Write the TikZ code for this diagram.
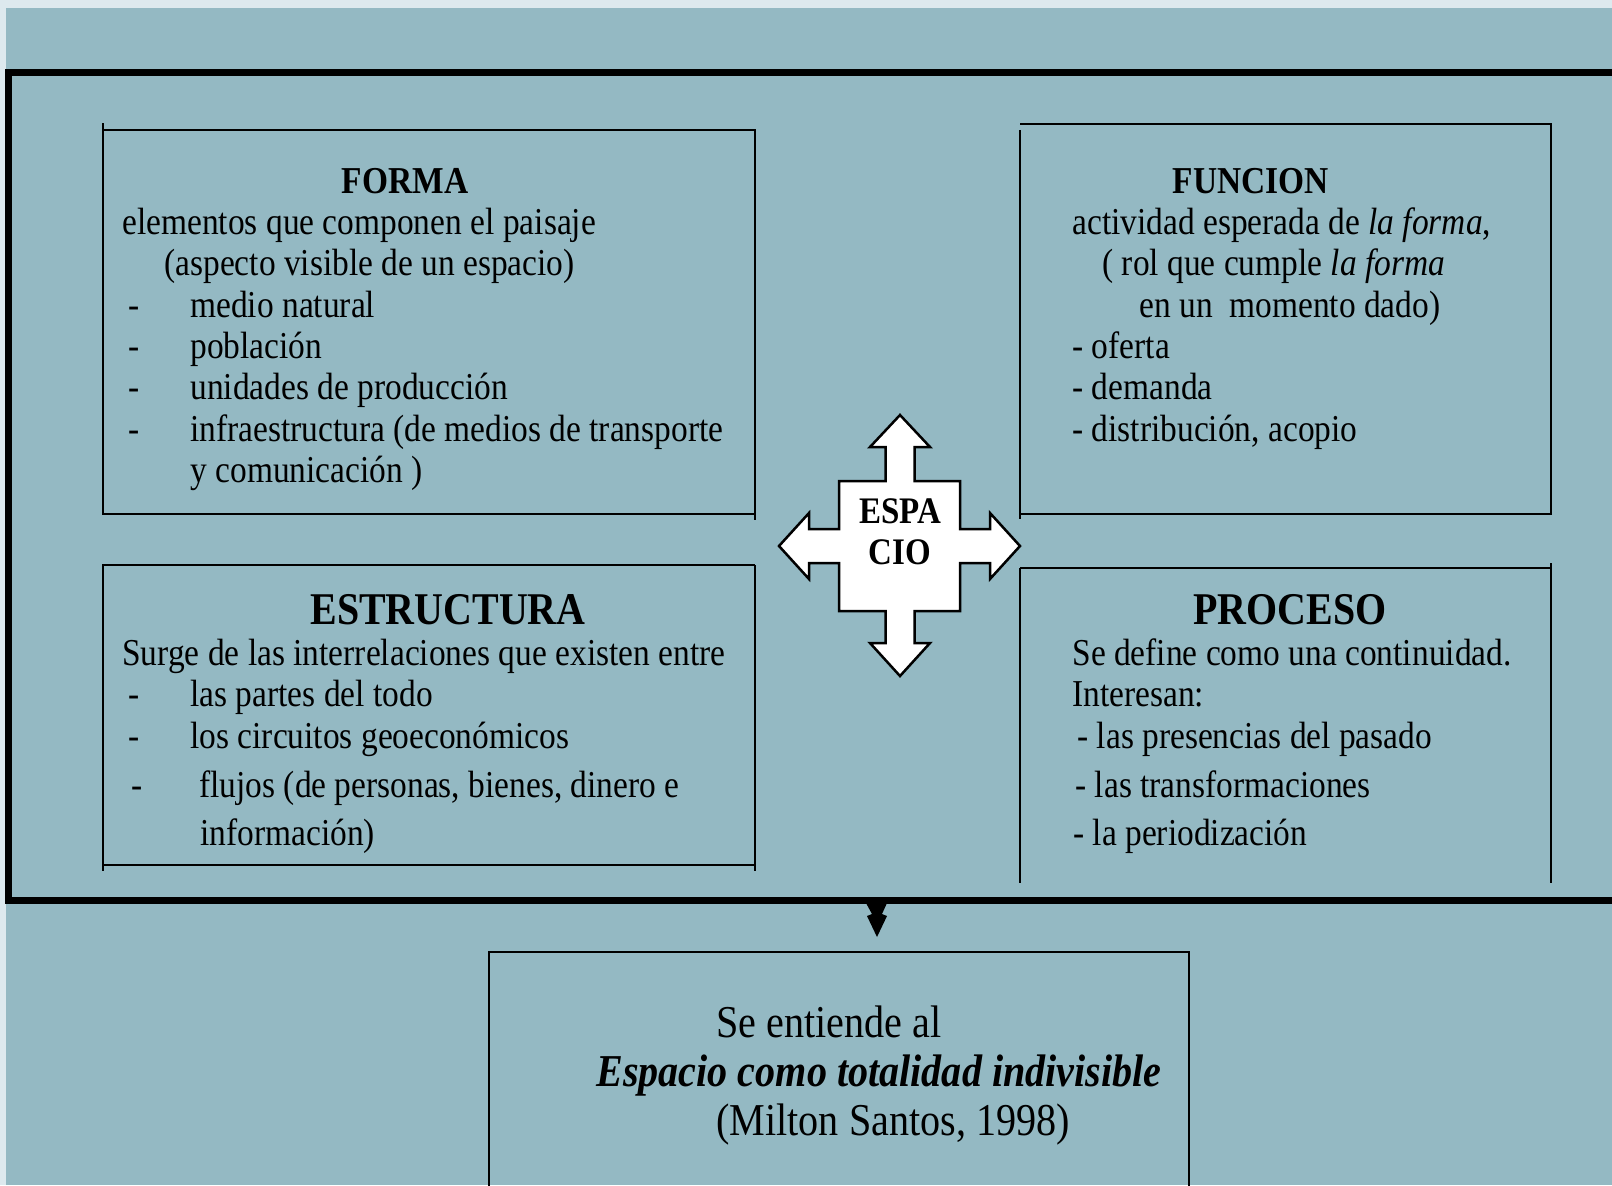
\documentclass[tikz,border=0pt]{standalone}
\usepackage{fontspec}
\setmainfont{Liberation Serif}[FakeStretch=0.88]
\definecolor{bgteal}{HTML}{94B9C3}
\definecolor{bgpale}{HTML}{DDE9EE}
\begin{document}
\begin{tikzpicture}[x=0.5pt,y=-0.5pt,
  txt/.style={inner sep=0pt, anchor=base west, font=\fontsize{19pt}{22pt}\selectfont},
  ttl/.style={inner sep=0pt, anchor=base, font=\fontsize{19pt}{22pt}\selectfont\bfseries},
  bigttl/.style={inner sep=0pt, anchor=base, font=\fontsize{22.7pt}{26pt}\selectfont\bfseries},
  btxt/.style={inner sep=0pt, anchor=base west, font=\fontsize{22.8pt}{26pt}\selectfont},
  boxline/.style={line width=1.25pt},
  frameline/.style={line width=3.5pt}]
\useasboundingbox (0,0) rectangle (1612,1185);
\fill[bgpale] (0,0) rectangle (1612,1185);
\fill[bgteal] (6,8) rectangle (1612,1185);

% main frame
\draw[frameline] (1612,72.5) -- (8.5,72.5) -- (8.5,900.5) -- (1612,900.5);

% FORMA box
\draw[boxline] (103,123) -- (103,514);
\draw[boxline] (102,130) -- (755,130) -- (755,520);
\draw[boxline] (102,514) -- (755,514);
% FUNCION box
\draw[boxline] (1020,124) -- (1551,124) -- (1551,514);
\draw[boxline] (1020,130) -- (1020,519);
\draw[boxline] (1020,514) -- (1552,514);
% ESTRUCTURA box
\draw[boxline] (102,565) -- (755,565);
\draw[boxline] (103,565) -- (103,871);
\draw[boxline] (755,565) -- (755,871);
\draw[boxline] (102,865) -- (756,865);
% PROCESO box
\draw[boxline] (1020,568) -- (1551,568);
\draw[boxline] (1020,568) -- (1020,883);
\draw[boxline] (1551,563) -- (1551,883);
% bottom box
\draw[boxline] (489,1190) -- (489,952) -- (1189,952) -- (1189,1190);

% FORMA text
\node[ttl] (formaT) at (405,193) {FORMA};
\node[txt] (f1) at (122,234) {elementos que componen el paisaje};
\node[txt] (f2) at (164,275) {(aspecto visible de un espacio)};
\node[txt] (f3d) at (128,317) {-};
\node[txt] (f3) at (190,317) {medio natural};
\node[txt] (f4d) at (128,358) {-};
\node[txt] (f4) at (190,358) {población};
\node[txt] (f5d) at (128,399) {-};
\node[txt] (f5) at (190,399) {unidades de producción};
\node[txt] (f6d) at (128,441) {-};
\node[txt] (f6) at (190,441) {infraestructura (de medios de transporte};
\node[txt] (f7) at (190,482) {y comunicación )};

% FUNCION text
\node[ttl] (funcT) at (1251,193) {FUNCION};
\node[txt] (u1) at (1072,234) {actividad esperada de \textit{la forma},};
\node[txt] (u2) at (1102,275) {( rol que cumple \textit{la forma}};
\node[txt] (u3) at (1139,317) {en un\ \ momento dado)};
\node[txt] (u4) at (1072,358) {- oferta};
\node[txt] (u5) at (1072,399) {- demanda};
\node[txt] (u6) at (1072,441) {- distribución, acopio};

% ESTRUCTURA text
\node[bigttl] (estT) at (448,624) {ESTRUCTURA};
\node[txt] (e1) at (122,665) {Surge de las interrelaciones que existen entre};
\node[txt] (e2d) at (128,706) {-};
\node[txt] (e2) at (190,706) {las partes del todo};
\node[txt] (e3d) at (128,748) {-};
\node[txt] (e3) at (190,748) {los circuitos geoeconómicos};
\node[txt] (e4d) at (131,797) {-};
\node[txt] (e4) at (199,797) {flujos (de personas, bienes, dinero e};
\node[txt] (e5) at (200,845) {información)};

% PROCESO text
\node[bigttl] (procT) at (1290,624) {PROCESO};
\node[txt] (p1) at (1072,665) {Se define como una continuidad.};
\node[txt] (p2) at (1072,706) {Interesan:};
\node[txt] (p3) at (1077,748) {- las presencias del pasado};
\node[txt] (p4) at (1075,797) {- las transformaciones};
\node[txt] (p5) at (1073,845) {- la periodización};

% central cross arrow
\draw[boxline, fill=white, line join=miter]
  (900,415) -- (930,447) -- (914.5,447) -- (914.5,481) -- (960,481) -- (960,529)
  -- (990,529) -- (990,513) -- (1020,546) -- (990,579) -- (990,563) -- (960,563)
  -- (960,611) -- (914.5,611) -- (914.5,643) -- (930,643) -- (900,676) -- (870,643)
  -- (885.5,643) -- (885.5,611) -- (839,611) -- (839,563) -- (809,563) -- (809,579)
  -- (779,546) -- (809,513) -- (809,529) -- (839,529) -- (839,481) -- (885.5,481)
  -- (885.5,447) -- (870,447) -- cycle;
\node[ttl, font=\fontsize{18.75pt}{22pt}\selectfont\bfseries] (esp1) at (900,523) {ESPA};
\node[ttl, font=\fontsize{18.75pt}{22pt}\selectfont\bfseries] (esp2) at (900,564) {CIO};

% down arrow
\fill[black] (866,903) -- (887,903) -- (882,914) -- (887,916) -- (877,937)
  -- (867,916) -- (872,914) -- cycle;

% bottom box text
\node[btxt] (b1) at (716,1037) {Se entiende al};
\node[btxt] (b2) at (596,1086) {\textbf{\textit{Espacio como totalidad indivisible}}};
\node[btxt] (b3) at (716,1135) {(Milton Santos, 1998)};
\end{tikzpicture}
\end{document}
